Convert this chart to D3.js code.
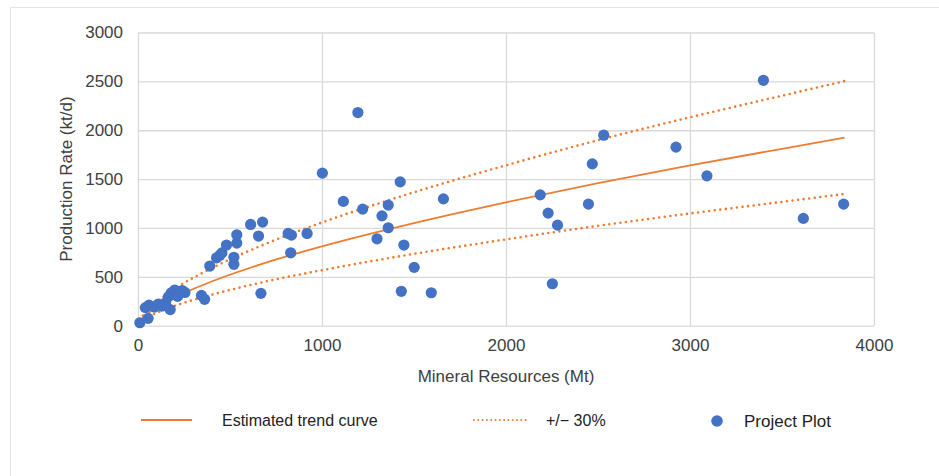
<!DOCTYPE html>
<html><head><meta charset="utf-8">
<script src="https://cdn.jsdelivr.net/npm/d3@7"></script>
<style>
html,body{margin:0;padding:0;background:#fff;}
svg{display:block;font-family:"Liberation Sans",Arial,sans-serif;}
</style></head>
<body><svg id="chart" width="939" height="476"></svg>
<script>
// Data
const resourcesMt = [10,55,40,60,90,110,130,150,175,165,180,200,215,240,255,
  345,362,390,427,445,456,481,521,521,537,537,612,655,677,668,816,834,830,919,
  1002,1116,1195,1221,1299,1326,1360,1360,1425,1431,1445,1501,1594,1660,
  2186,2229,2252,2280,2448,2469,2531,2924,3092,3399,3616,3835];
const productionKtd = [30,75,185,210,190,220,200,235,165,295,335,365,300,360,340,
  310,270,610,695,720,745,825,700,628,930,845,1036,917,1060,331,944,927,746,944,
  1561,1272,2181,1193,889,1124,1234,1002,1472,352,825,597,337,1298,
  1339,1152,429,1029,1244,1656,1949,1827,1533,2511,1098,1244];
const trendX = [10,30,60,100,200,400,700,1000,1500,2000,2500,3000,3500,3840];
const trendY = [42,86,133,185,290,452,648,812,1050,1262,1460,1640,1810,1925];
const upperY = [55,112,173,240,377,588,842,1056,1365,1641,1898,2132,2353,2503];
const lowerY = [29,60,93,130,203,316,454,568,735,883,1022,1148,1267,1348];
const xTicks = [0,1000,2000,3000,4000];
const yTicks = [0,500,1000,1500,2000,2500,3000];
const xTitle = "Mineral Resources (Mt)";
const yTitle = "Production Rate (kt/d)";
const legendLabels = ["Estimated trend curve", "+/\u2212 30%", "Project Plot"];

const orange = "#ED7D31", blue = "#4472C4", grid = "#d9d9d9";
const svg = d3.select("#chart");

// outer frame
svg.append("path").attr("d","M10.5,476 V7.5 H939").attr("fill","none").attr("stroke","#e3e3e3").attr("stroke-width",1);

const x = d3.scaleLinear().domain([0,4000]).range([138,874]);
const y = d3.scaleLinear().domain([0,3000]).range([325.7,32.5]);

// gridlines
const gx = svg.append("g").attr("transform",`translate(0,${y(0)})`)
  .call(d3.axisBottom(x).tickValues(xTicks).tickSize(-(y(0)-y(3000))).tickFormat(""));
gx.select(".domain").remove();
gx.selectAll("line").attr("stroke",grid).attr("stroke-width",1.3);
const gy = svg.append("g").attr("transform",`translate(${x(0)},0)`)
  .call(d3.axisLeft(y).tickValues(yTicks).tickSize(-(x(4000)-x(0))).tickFormat(""));
gy.select(".domain").remove();
gy.selectAll("line").attr("stroke",grid).attr("stroke-width",1.3);

// tick labels
const xl = svg.append("g").attr("transform",`translate(0,${y(0)})`)
  .call(d3.axisBottom(x).tickValues(xTicks).tickSize(0).tickPadding(13).tickFormat(d3.format("d")));
xl.select(".domain").remove();
xl.selectAll("text").attr("font-size",17).attr("fill","#404040").attr("font-family","Liberation Sans, Arial, sans-serif");
const yl = svg.append("g").attr("transform",`translate(${x(0)},0)`)
  .call(d3.axisLeft(y).tickValues(yTicks).tickSize(0).tickPadding(15).tickFormat(d3.format("d")));
yl.select(".domain").remove();
yl.selectAll("text").attr("font-size",17).attr("fill","#404040").attr("font-family","Liberation Sans, Arial, sans-serif");

// axis titles
svg.append("text").attr("x",(x(0)+x(4000))/2).attr("y",382).attr("text-anchor","middle")
  .attr("font-size",17).attr("fill","#404040").text(xTitle);
svg.append("text").attr("transform",`translate(72,${(y(0)+y(3000))/2}) rotate(-90)`).attr("text-anchor","middle")
  .attr("font-size",17).attr("fill","#404040").text(yTitle);

// lines
const mk = ys => d3.line().x((d,i)=>x(trendX[i])).y((d,i)=>y(ys[i])).curve(d3.curveMonotoneX)(ys);
svg.append("path").attr("d",mk(trendY)).attr("fill","none").attr("stroke",orange).attr("stroke-width",1.8);
[upperY,lowerY].forEach(arr=>{
  svg.append("path").attr("d",mk(arr)).attr("fill","none").attr("stroke",orange)
    .attr("stroke-width",2.6).attr("stroke-dasharray","0 5.6").attr("stroke-linecap","round");
});

// points
svg.append("g").selectAll("circle").data(resourcesMt).join("circle")
  .attr("cx",d=>x(d)).attr("cy",(d,i)=>y(productionKtd[i])).attr("r",5.6).attr("fill",blue);

// legend
const ly = 420;
svg.append("line").attr("x1",141).attr("x2",192).attr("y1",ly).attr("y2",ly).attr("stroke",orange).attr("stroke-width",1.8);
svg.append("text").attr("x",222).attr("y",ly+5.5).attr("font-size",16).attr("fill","#222").text(legendLabels[0]);
svg.append("line").attr("x1",474).attr("x2",526).attr("y1",ly).attr("y2",ly).attr("stroke",orange)
  .attr("stroke-width",2).attr("stroke-dasharray","0 4.3").attr("stroke-linecap","round");
svg.append("text").attr("x",546).attr("y",ly+5.5).attr("font-size",16).attr("fill","#222").text(legendLabels[1]);
svg.append("circle").attr("cx",717).attr("cy",ly+1).attr("r",5.8).attr("fill",blue);
svg.append("text").attr("x",744).attr("y",ly+6.5).attr("font-size",17).attr("fill","#222").text(legendLabels[2]);
</script></body></html>
